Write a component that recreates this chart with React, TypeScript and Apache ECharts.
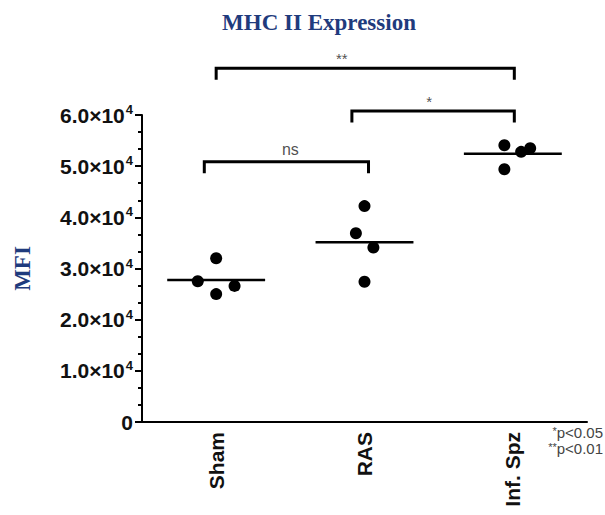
import React, { useEffect, useRef } from "react";
import * as echarts from "echarts";

const categories = ["Sham", "RAS", "Inf. Spz"];
const shamValues = [32000, 27500, 26600, 25000];
const rasValues = [42200, 36900, 34100, 27400];
const infSpzValues = [54100, 52800, 53500, 49400];
const groupValues = [shamValues, rasValues, infSpzValues];
// horizontal scatter offsets (category units)
const jitter = [
  [0, -0.124, 0.124, 0],
  [0, -0.058, 0.06, 0],
  [-0.057, 0.056, 0.117, -0.057],
];
const yTicks = [0, 10000, 20000, 30000, 40000, 50000, 60000];
// significance brackets: [xStart, xEnd, yTop, yLeg, label, labelX, labelY]
const brackets: [number, number, number, number, string, number, number][] = [
  [-0.08, 1.027, 50860, 48900, "ns", 0.5, 53200],
  [0.915, 2.01, 60780, 58820, "*", 1.436, 62600],
  [0, 2.01, 69120, 67170, "**", 0.847, 71000],
];
const pNotes = ["p<0.05", "p<0.01"];
const pStars = ["*", "**"];

const NAVY = "#1f3b7d";

export default function App() {
  const ref = useRef<HTMLDivElement>(null);
  useEffect(() => {
    if (!ref.current) return;
    const chart = echarts.init(ref.current, null, { renderer: "svg" });
    const mean = (a: number[]) => a.reduce((s, v) => s + v, 0) / a.length;

    const series: any[] = [];
    series.push({
      type: "scatter",
      xAxisIndex: 1,
      symbol: "circle",
      symbolSize: 12,
      itemStyle: { color: "#000", opacity: 1 },
      data: groupValues.flatMap((vals, g) => vals.map((v, i) => [g + jitter[g][i], v])),
      z: 3,
    });
    groupValues.forEach((vals, g) => {
      const m = mean(vals);
      series.push({
        type: "line",
        xAxisIndex: 1,
        symbol: "none",
        lineStyle: { color: "#000", width: 2.5 },
        data: [
          [g - 0.33, m],
          [g + 0.33, m],
        ],
        z: 2,
      });
    });
    brackets.forEach(([x1, x2, yt, yl, label, lx, ly]) => {
      series.push({
        type: "line",
        xAxisIndex: 1,
        symbol: "none",
        clip: false,
        lineStyle: { color: "#000", width: 3, cap: "square", join: "miter" },
        data: [
          [x1, yl],
          [x1, yt],
          [x2, yt],
          [x2, yl],
        ],
      });
      series.push({
        type: "scatter",
        xAxisIndex: 1,
        symbolSize: 0,
        clip: false,
        silent: true,
        label: {
          show: true,
          position: "inside",
          formatter: label,
          color: "#222",
          fontFamily: "Liberation Sans, Arial, sans-serif",
          fontSize: label === "ns" ? 16 : 15,
        },
        data: [[lx, ly]],
      });
    });

    chart.setOption({
      animation: false,
      backgroundColor: "#fff",
      title: {
        text: "MHC II Expression",
        left: 314,
        top: 6,
        textAlign: "center",
        textStyle: {
          fontFamily: "Liberation Serif, Times New Roman, serif",
          fontWeight: "bold",
          fontSize: 23,
          color: NAVY,
        },
      },
      grid: { left: 142, right: 18, top: 115, bottom: 93 },
      xAxis: [
        {
          type: "category",
          data: categories,
          boundaryGap: true,
          axisLine: { lineStyle: { color: "#000", width: 2 } },
          axisTick: { alignWithLabel: true, length: 7, lineStyle: { color: "#000", width: 2 } },
          axisLabel: {
            rotate: 90,
            margin: 10,
            color: "#111",
            fontFamily: "Liberation Sans, Arial, sans-serif",
            fontWeight: "bold",
            fontSize: 21,
          },
        },
        { type: "value", min: -0.5, max: 2.5, show: false },
      ],
      yAxis: {
        type: "value",
        min: yTicks[0],
        max: yTicks[yTicks.length - 1],
        interval: yTicks[1] - yTicks[0],
        name: "MFI",
        nameLocation: "middle",
        nameRotate: 90,
        nameGap: 108,
        nameTextStyle: {
          fontFamily: "Liberation Serif, Times New Roman, serif",
          fontWeight: "bold",
          fontSize: 23,
          color: NAVY,
        },
        axisLine: { show: true, onZero: false, lineStyle: { color: "#000", width: 2 } },
        axisTick: { show: true, length: 7, lineStyle: { color: "#000", width: 2 } },
        minorTick: { show: true, splitNumber: 3, length: 4, lineStyle: { color: "#000", width: 2 } },
        splitLine: { show: false },
        axisLabel: {
          margin: 9,
          formatter: (v: number) => (v === 0 ? "{a|0}" : `{a|${(v / 1e4).toFixed(1)}×10}{b|4}`),
          rich: {
            a: {
              fontFamily: "Liberation Sans, Arial, sans-serif",
              fontWeight: "bold",
              fontSize: 21,
              color: "#111",
              lineHeight: 24,
            },
            b: {
              fontFamily: "Liberation Sans, Arial, sans-serif",
              fontWeight: "bold",
              fontSize: 13,
              color: "#111",
              verticalAlign: "top",
              lineHeight: 24,
              padding: [0, 0, 11, 1],
            },
          },
        },
      },
      graphic: pNotes.map((t, i) => ({
        type: "text",
        x: 603,
        y: 425 + i * 16,
        style: {
          text: `{s|${pStars[i]}}{t|${t}}`,
          align: "right",
          verticalAlign: "top",
          rich: {
            s: { fontSize: 11, fill: "#444", fontFamily: "Liberation Sans, Arial, sans-serif", lineHeight: 14, verticalAlign: "top" },
            t: { fontSize: 15, fill: "#444", fontFamily: "Liberation Sans, Arial, sans-serif", lineHeight: 14 },
          },
        },
      })),
      series,
    });
    return () => chart.dispose();
  }, []);
  return (
    <div
      ref={ref}
      style={{ position: "absolute", left: 0, top: 0, width: 605, height: 515, background: "#fff" }}
    />
  );
}
